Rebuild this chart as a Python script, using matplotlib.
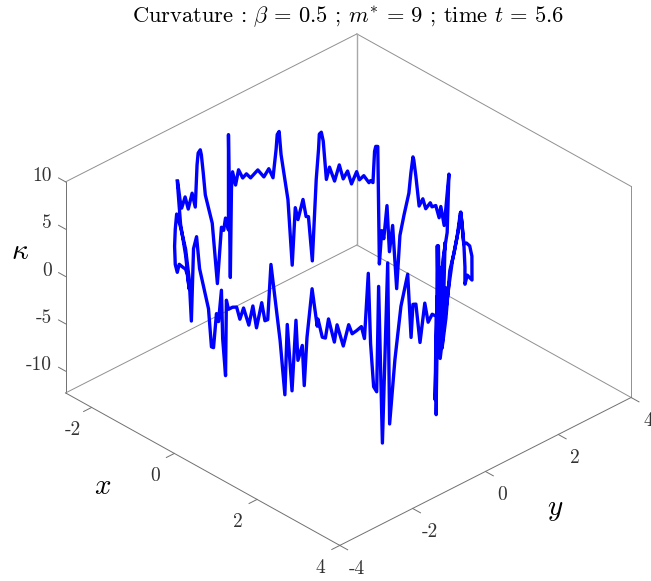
import numpy as np, matplotlib
matplotlib.use('Agg')
import matplotlib.pyplot as plt
from mpl_toolkits.mplot3d import proj3d
plt.rcParams['font.family']=['cmr10','DejaVu Sans']
plt.rcParams['mathtext.fontset']='cm'
plt.rcParams['axes.unicode_minus']=False
plt.rcParams['axes.formatter.use_mathtext']=True

x_values=[-2.64,-2.68,-2.72,-2.76,-2.79,-2.82,-2.84,-2.85,-2.85,-2.86,-2.86,-2.87,-2.87,
-2.87,-2.86,-2.85,-2.84,-2.84,-2.83,-2.83,-2.82,-2.81,-2.81,-2.79,-2.78,-2.75,
-2.73,-2.70,-2.64,-2.59,-2.55,-2.51,-2.48,-2.47,-2.45,-2.43,-2.36,-2.31,-2.28,
-2.25,-2.19,-2.15,-2.12,-2.07,-2.02,-1.99,-1.98,-1.95,-1.93,-1.88,-1.84,-1.77,
-1.70,-1.64,-1.57,-1.51,-1.43,-1.38,-1.31,-1.22,-1.19,-1.15,-1.12,-1.10,-1.06,
-1.03,-0.99,-0.95,-0.89,-0.84,-0.78,-0.70,-0.63,-0.55,-0.44,-0.40,-0.35,-0.33,
-0.28,-0.21,-0.12,-0.05,0.06,0.11,0.21,0.30,0.35,0.44,0.50,0.59,0.53,
0.41,0.35,0.47,0.41,0.50,0.38,0.50,0.62,0.76,0.93,1.01,1.09,1.14,
1.18,1.18,1.28,1.57,2.29,2.36,2.44,2.50,2.53,2.54,2.57,2.61,2.63,
2.64,2.65,2.65,2.65,2.65,2.65,2.65,2.65,2.65,2.65,2.65,2.65,2.65,
2.64,2.63,2.62,2.60,2.59,2.58,2.56,2.52,2.48,2.44,2.42,2.38,2.35,
2.33,2.30,2.27,2.25,2.21,2.18,2.13,2.08,2.04,1.98,1.90,1.87,1.79,
1.75,1.71,1.65,1.64,1.56,1.49,1.45,1.42,1.35,1.32,1.26,1.18,1.14,
1.06,0.90,0.84,0.79,0.73,0.63,0.56,0.48,0.37,0.29,0.22,0.13,0.04,
-0.01,-0.03,-0.10,-0.13,-0.20,-0.25,-0.33,-0.38,-0.46,-0.72,-0.81,-0.91,-0.98,
-1.05,-1.19,-1.40,-1.60,-1.66,-1.72,-1.66,-1.55,-1.45,-1.31,-1.19,-1.12,-1.05,
-1.19,-1.40,-1.55]
y_values=[-0.91,-0.80,-0.71,-0.57,-0.45,-0.31,-0.20,-0.14,-0.11,-0.04,-0.01,0.05,0.11,
0.30,0.43,0.53,0.58,0.63,0.70,0.70,0.74,0.76,0.79,0.85,0.92,1.00,
1.08,1.16,1.29,1.40,1.49,1.56,1.61,1.63,1.66,1.69,1.80,1.86,1.91,
1.95,2.02,2.06,2.09,2.14,2.19,2.22,2.23,2.25,2.28,2.31,2.35,2.41,
2.46,2.50,2.54,2.58,2.63,2.65,2.69,2.73,2.74,2.76,2.77,2.78,2.79,
2.80,2.82,2.83,2.85,2.86,2.88,2.90,2.91,2.93,2.94,2.95,2.95,2.95,
2.95,2.96,2.96,2.96,2.96,2.95,2.94,2.93,2.92,2.91,2.89,2.87,2.89,
2.91,2.92,2.90,2.91,2.89,2.92,2.89,2.86,2.82,2.76,2.72,2.68,2.66,
2.64,2.64,2.59,2.39,1.57,1.43,1.25,1.11,1.02,0.97,0.85,0.67,0.57,
0.47,0.29,0.24,0.24,0.29,0.35,0.26,0.21,0.18,0.21,0.15,0.18,0.07,
-0.03,-0.11,-0.23,-0.32,-0.39,-0.43,-0.50,-0.64,-0.76,-0.86,-0.89,-0.99,-1.06,
-1.09,-1.14,-1.19,-1.23,-1.29,-1.34,-1.42,-1.48,-1.53,-1.61,-1.69,-1.73,-1.80,
-1.84,-1.88,-1.93,-1.94,-1.99,-2.05,-2.08,-2.10,-2.14,-2.16,-2.20,-2.24,-2.26,
-2.30,-2.37,-2.39,-2.41,-2.43,-2.46,-2.48,-2.50,-2.52,-2.53,-2.54,-2.55,-2.56,
-2.56,-2.56,-2.56,-2.56,-2.56,-2.56,-2.55,-2.55,-2.54,-2.49,-2.47,-2.44,-2.42,
-2.40,-2.34,-2.24,-2.12,-2.09,-2.04,-2.09,-2.16,-2.22,-2.28,-2.34,-2.37,-2.40,
-2.34,-2.24,-2.16]
kappa_values=[3.94,1.71,0.58,1.39,-0.20,1.13,-0.60,3.71,4.91,5.09,4.49,2.56,-0.00,
-3.35,-9.96,-4.18,-4.58,-3.38,-4.76,5.32,-9.82,-0.40,1.27,-0.20,1.30,0.35,
0.68,0.17,0.90,0.07,0.86,-0.14,2.81,4.39,4.70,2.25,-2.56,-9.47,-3.42,
-4.69,-2.55,-4.34,-4.33,-8.98,-0.35,2.85,4.45,4.69,3.75,-0.25,1.07,-0.35,
1.43,0.02,0.94,-0.35,1.04,0.26,0.79,0.19,0.46,0.31,3.66,4.22,4.29,
-8.07,-4.49,-5.27,-1.66,-6.43,-3.55,-10.07,-4.31,-2.01,0.57,2.79,4.60,4.33,
2.74,-0.27,0.71,-0.17,0.73,0.44,0.84,-0.21,1.12,-0.65,1.44,5.22,-1.13,
-4.34,-8.54,-2.37,-11.56,-7.06,-13.77,-10.24,-4.88,-2.56,0.68,2.53,0.69,-0.76,
-2.72,-4.53,-3.23,-2.65,3.22,4.75,5.60,5.92,8.61,9.58,7.45,5.25,3.36,
0.92,-4.21,-1.76,7.79,-2.94,5.43,-3.94,7.85,-9.93,2.54,-8.29,0.47,0.89,
0.22,2.37,-1.58,2.60,2.69,-0.75,6.02,2.81,-2.69,-9.39,7.63,-11.30,5.31,
-5.81,-5.25,-0.66,6.78,-0.09,1.20,0.79,0.47,1.43,-0.81,1.39,-0.43,1.96,
-0.08,-0.01,1.86,1.10,4.96,-0.22,-5.36,-1.15,-2.82,1.38,-6.14,0.75,-6.73,
-1.13,6.67,0.73,0.53,2.33,-0.51,1.67,-0.51,1.07,-0.29,0.84,0.63,0.21,
1.05,-6.97,-3.22,1.81,-1.67,-0.95,-4.76,-4.80,-0.99,2.52,5.64,4.07,-3.78,
0.45,3.15,4.77,5.43,3.62,1.57,-0.10,-0.53,0.68,0.83,1.03,0.64,-0.61,
2.52,5.09,9.13]
x_ticks=[-2,0,2,4]
y_ticks=[-4,-2,0,2,4]
z_ticks=[-10,-5,0,5,10]
xl,yl,zl=(-2.63,4),(-4,4),(-12.3,10)

W,H=651,581
fig=plt.figure(figsize=(W/100,H/100),dpi=100)
ax=fig.add_axes([0,0,1,1],projection='3d',proj_type='ortho')
ax.view_init(elev=32.1,azim=-43.7)
ax.set_box_aspect((395,401,248))
ax.set_xlim(*xl,view_margin=0);ax.set_ylim(*yl,view_margin=0);ax.set_zlim(*zl,view_margin=0)
ax.set_axis_off()
M=ax.get_proj()
c3=[(xl[0],yl[0],zl[0]),(xl[1],yl[0],zl[0]),(xl[1],yl[1],zl[0]),(xl[0],yl[1],zl[0]),(xl[0],yl[0],zl[1]),(xl[0],yl[1],zl[1]),(xl[1],yl[1],zl[1])]
tg=np.array([(67,392),(340,548),(629,402),(357,243),(67,182),(357,33),(630,183)],float)
P=np.array([proj3d.proj_transform(*c,M)[:2] for c in c3])
Pc=P-P.mean(0);Tc=tg-tg.mean(0)
s=(Pc[:,0]*Tc[:,0]-Pc[:,1]*Tc[:,1]).sum()/(Pc**2).sum()
tx=tg[:,0].mean()-s*P[:,0].mean(); ty=(H-tg[:,1]).mean()-s*P[:,1].mean()
v=ax.viewLim
L=s*(v.x1-v.x0)
ax.set_position([(tx+s*v.x0)/W,(ty+s*v.y0)/H,L/W,L/H])

def seg(a,b,c='#707070',lw=0.7):
    ax.plot([a[0],b[0]],[a[1],b[1]],[a[2],b[2]],color=c,lw=lw,clip_on=False)
def label(x,y,z,t,ha='center'):
    X,Y,_=proj3d.proj_transform(x,y,z,M)
    ax.text2D(X,Y,t,transform=ax.transData,ha=ha,va='center',fontsize=14,color='#333333',clip_on=False)
xa,xb=xl;ya,yb=yl;za,zb=zl
seg((xa,ya,za),(xb,ya,za));seg((xb,ya,za),(xb,yb,za));seg((xa,ya,za),(xa,ya,zb))
g='#909090'
seg((xa,ya,za),(xa,yb,za),g);seg((xa,yb,za),(xb,yb,za),g);seg((xa,ya,zb),(xa,yb,zb),g);seg((xa,yb,zb),(xb,yb,zb),g);seg((xa,yb,za),(xa,yb,zb),'#a8a8a8',1.0);seg((xb,yb,za),(xb,yb,zb),g)
for t in x_ticks:
    seg((t,ya,za),(t,ya-.22,za))
    label(t+.23,ya-.79,za-.3,str(t))
for t in y_ticks:
    seg((xb,t,za),(xb+.19,t,za))
    label(xb+.62,t-.24,za-.55,str(t))
for t in z_ticks:
    seg((xa,ya,t),(xa-.17,ya,t))
    label(xa-.34,ya,t-.2,str(t),ha='right')
ax.plot(x_values,y_values,kappa_values,color=(0,0,1),lw=2.4,clip_on=False,solid_joinstyle='round')
fig.text(348/W,1-17/H,r'Curvature : $\beta\,=\,0.5$ ; $m^{*}\,=\,9$ ; time $t\,=\,5.6$',ha='center',va='center',fontsize=16.2)
fig.text(103/W,1-487/H,r'$x$',ha='center',va='center',fontsize=21)
fig.text(555/W,1-510/H,r'$y$',ha='center',va='center',fontsize=21)
fig.text(20/W,1-252/H,r'$\kappa$',ha='center',va='center',fontsize=21)
fig.savefig('out.png',dpi=100)
